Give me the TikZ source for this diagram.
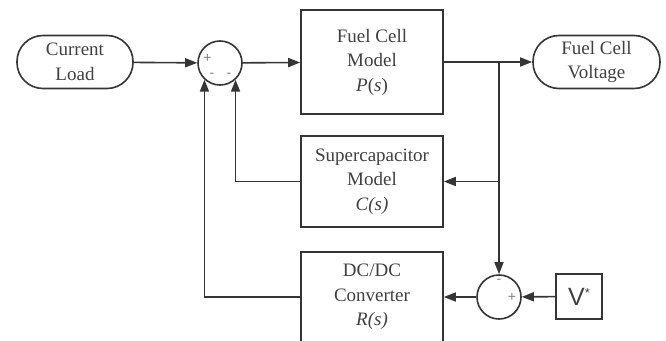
\documentclass[tikz,border=0pt]{standalone}
\usepackage{fontspec}
\setmainfont{Liberation Serif}
\newfontfamily\arialfont{Liberation Sans}
\usetikzlibrary{arrows.meta}
\definecolor{linegray}{HTML}{353535}
\definecolor{textgray}{HTML}{404040}
\tikzset{
  blocktext/.style={text=textgray,align=center,inner sep=0pt,font=\fontsize{19}{24.5}\selectfont},
  block/.style={blocktext,draw=linegray,line width=1.6pt,minimum width=142pt},
  pill/.style={blocktext,draw=linegray,line width=1.6pt,rounded corners=26pt,minimum height=53pt},
  sumnode/.style={circle,draw=linegray,line width=1.6pt,minimum size=44pt,inner sep=0pt},
  sign/.style={text=gray,inner sep=0pt,font=\arialfont\fontsize{14}{14}\selectfont},
  arr/.style={draw=linegray,line width=1.6pt,-{Triangle[length=12pt,width=9pt]}}
}
\begin{document}
\begin{tikzpicture}[x=1pt,y=-1pt]
\useasboundingbox (0,0) rectangle (666,340);
%top row
\node[pill,minimum width=116pt] (load) at (75,62) {Current\\Load};
\node[sumnode] (s1) at (220,63) {};
\node[block,minimum height=104pt] (fc) at (372,62) {Fuel Cell\\Model\\\textit{P}(\textit{s})};
\node[pill,minimum width=127pt] (volt) at (596.5,62) {Fuel Cell\\Voltage};
%middle row
\node[block,minimum height=91pt] (sc) at (372,181.5) {Supercapacitor\\Model\\\textit{C(s)}};
%bottom row
\node[block,minimum height=90pt] (dc) at (372,297) {DC/DC\\Converter\\\textit{R(s)}};
\node[sumnode] (s2) at (499,297) {};
\node[draw=linegray,line width=1.6pt,minimum width=46pt,minimum height=45pt,inner sep=0pt,text=textgray,font=\arialfont\fontsize{25}{25}\selectfont] (vref) at (579,296.5) {V\raisebox{8pt}{\fontsize{13}{13}\selectfont *}};
%signs
\node[sign] (p1) at (207.5,58) {+};
\node[sign] (m1) at (212,75) {-};
\node[sign] (m2) at (229,75) {-};
\node[sign] (m3) at (499,281) {-};
\node[sign] (p2) at (512,297) {+};
%branch points
\coordinate (br1) at (fc.east -| s2.north);
\coordinate (br2) at (sc.east -| s2.north);

\draw[arr] (load) -- (s1);
\draw[arr] (s1) -- (fc);
\draw[arr] (fc) -- (volt);
\draw[arr] (br1) -- (s2);
\draw[arr] (br2) -- (sc);
\draw[arr] (sc.west) -| (s1.313);
\draw[arr] (dc.west) -| (s1.227);
\draw[arr] (vref) -- (s2);
\draw[arr] (s2) -- (dc);
\end{tikzpicture}
\end{document}
